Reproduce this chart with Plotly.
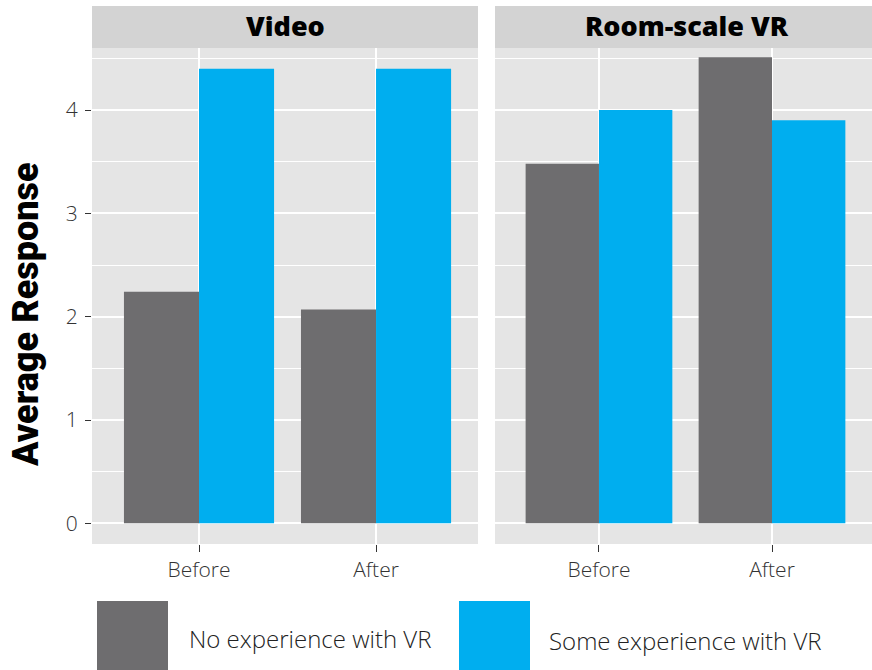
import plotly.graph_objects as go

# ---- data ----
phases = ["Before", "After"]
panel_titles = ["Video", "Room-scale VR"]
group_names = ["No experience with VR", "Some experience with VR"]
no_exp_video = [2.24, 2.07]
some_exp_video = [4.40, 4.40]
no_exp_room = [3.48, 4.51]
some_exp_room = [4.00, 3.90]
y_ticks = [0, 1, 2, 3, 4]
y_tick_labels = ["0", "1", "2", "3", "4"]

GRAY = "#6e6d6f"
BLUE = "#00aeef"
W, H = 872, 670
FONT = "Roboto"
LIGHT = "Open Sans"

fig = go.Figure()
panels = [("x", "y", no_exp_video, some_exp_video), ("x2", "y2", no_exp_room, some_exp_room)]
for xa, ya, a, b in panels:
    fig.add_trace(go.Bar(x=phases, y=a, name=group_names[0], marker=dict(color=GRAY, line=dict(width=0)),
                         xaxis=xa, yaxis=ya, showlegend=False, hoverinfo="skip"))
    fig.add_trace(go.Bar(x=phases, y=b, name=group_names[1], marker=dict(color=BLUE, line=dict(width=0)),
                         xaxis=xa, yaxis=ya, showlegend=False, hoverinfo="skip"))

px_x = lambda p: p / W
px_y = lambda p: 1 - p / H

left_dom = [px_x(92), px_x(478)]
right_dom = [px_x(495), 1.0]
y_dom = [px_y(544), px_y(48)]

xcommon = dict(type="category", showgrid=True, gridcolor="white", gridwidth=1.6,
               ticks="outside", ticklen=7, tickcolor="#333333", tickwidth=1,
               tickfont=dict(family=LIGHT, size=21, color="#333333", weight=300),
               showline=False, zeroline=False, automargin=False, fixedrange=True,
               categoryorder="array", categoryarray=phases)
ycommon = dict(range=[-0.2, 4.6], tickvals=y_ticks, ticktext=y_tick_labels,
               showgrid=True, gridcolor="white", gridwidth=1.6,
               minor=dict(dtick=0.5, tick0=0, showgrid=True, gridcolor="white", gridwidth=0.8, ticks=""),
               zeroline=False, showline=False, automargin=False, fixedrange=True)

fig.update_layout(
    width=W, height=H,
    margin=dict(l=0, r=0, t=0, b=0),
    paper_bgcolor="white",
    plot_bgcolor="#e5e5e5",
    barmode="group", bargap=0.152, bargroupgap=0,
    showlegend=False,
    xaxis=dict(domain=left_dom, range=[-0.6045, 1.576], anchor="y", **xcommon),
    xaxis2=dict(domain=right_dom, range=[-0.601, 1.578], anchor="y2", **xcommon),
    yaxis=dict(domain=y_dom, anchor="x", ticks="outside", ticklen=6, tickcolor="#333333",
               ticklabelstandoff=3,
               tickfont=dict(family=LIGHT, size=21, color="#333333", weight=300), **ycommon),
    yaxis2=dict(domain=y_dom, anchor="x2", showticklabels=False, ticks="", matches="y", **ycommon),
)

shapes = []
annotations = []
# strips
for dom, title in [(left_dom, panel_titles[0]), (right_dom, panel_titles[1])]:
    shapes.append(dict(type="rect", xref="paper", yref="paper", x0=dom[0], x1=dom[1],
                       y0=px_y(48), y1=px_y(6), fillcolor="#d3d3d3", line=dict(width=0), layer="below"))
    annotations.append(dict(text=title, xref="paper", yref="paper",
                            x=(dom[0] + (dom[1] if dom[1] < 1 else px_x(879))) / 2, y=px_y(26),
                            showarrow=False, xanchor="center", yanchor="middle",
                            font=dict(family=LIGHT, size=27, color="black", weight=800)))

# y-axis title
annotations.append(dict(text="Average Response", xref="paper", yref="paper", x=px_x(26), y=px_y(315),
                        textangle=-90, showarrow=False, xanchor="center", yanchor="middle",
                        font=dict(family=FONT, size=36, color="black", weight=900)))

# legend (manual, large keys)
legend_items = [(97, 168, 187, GRAY, group_names[0], 638), (459, 530, 547, BLUE, group_names[1], 640)]
for x0, x1, tx, col, label, ty in legend_items:
    shapes.append(dict(type="rect", xref="paper", yref="paper", x0=px_x(x0), x1=px_x(x1),
                       y0=px_y(670), y1=px_y(601), fillcolor=col, line=dict(width=0)))
    annotations.append(dict(text=label, xref="paper", yref="paper", x=px_x(tx), y=px_y(ty),
                            showarrow=False, xanchor="left", yanchor="middle",
                            font=dict(family=LIGHT, size=24, color="#222222", weight=300)))

fig.update_layout(shapes=shapes, annotations=annotations)
fig.write_html("out.html", config={"displayModeBar": False},
               post_script="document.body.style.margin='0px';")
